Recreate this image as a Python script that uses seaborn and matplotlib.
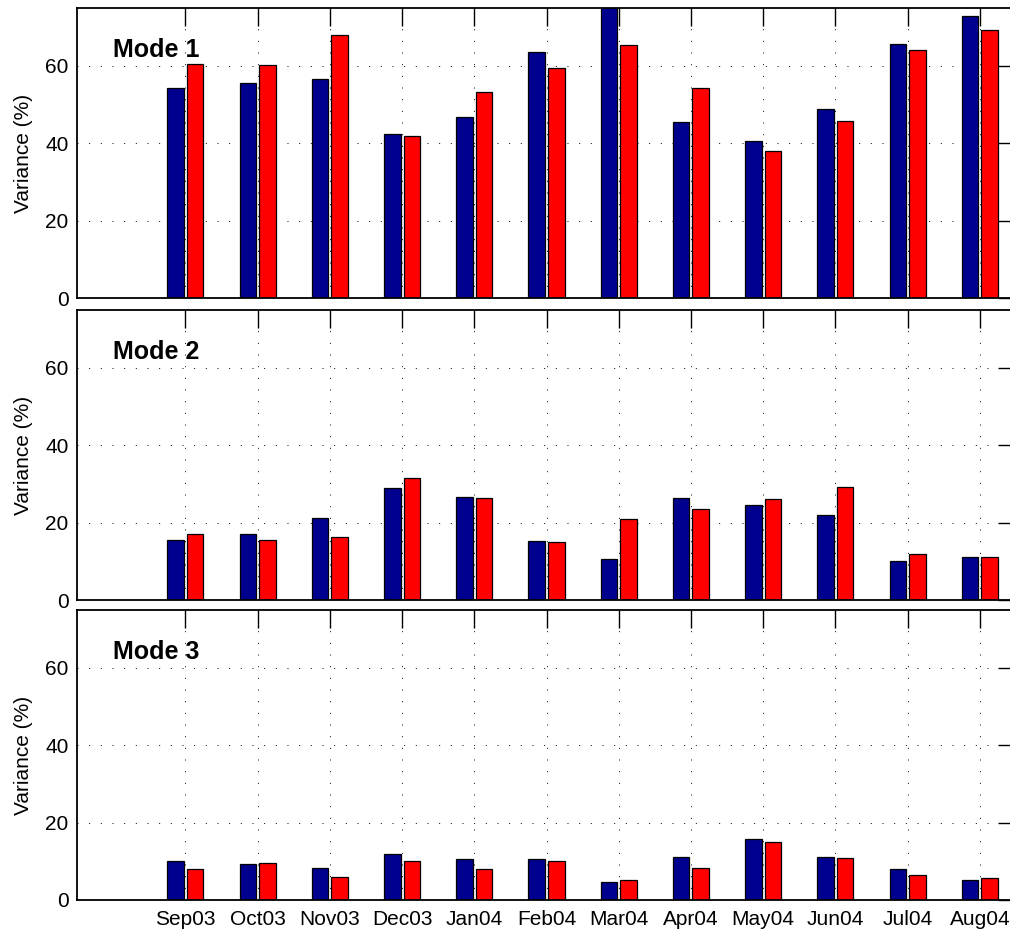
import matplotlib
matplotlib.use("Agg")
import matplotlib.pyplot as plt
import seaborn as sns
import pandas as pd

months = ["Sep03", "Oct03", "Nov03", "Dec03", "Jan04", "Feb04",
          "Mar04", "Apr04", "May04", "Jun04", "Jul04", "Aug04"]
series_names = ["Series A", "Series B"]
mode_titles = ["Mode 1", "Mode 2", "Mode 3"]

mode1_a = [54.4, 55.5, 56.7, 42.3, 46.8, 63.6, 77.0, 45.4, 40.5, 49.0, 65.8, 72.9]
mode1_b = [60.4, 60.3, 68.1, 42.0, 53.3, 59.6, 65.4, 54.2, 38.0, 45.7, 64.1, 69.4]
mode2_a = [15.4, 17.0, 21.2, 29.0, 26.6, 15.3, 10.5, 26.3, 24.5, 21.9, 10.0, 11.2]
mode2_b = [17.1, 15.6, 16.4, 31.6, 26.5, 15.1, 21.0, 23.5, 26.0, 29.1, 12.0, 11.1]
mode3_a = [10.2, 9.3, 8.2, 12.0, 10.7, 10.5, 4.7, 11.2, 15.7, 11.0, 7.9, 5.3]
mode3_b = [7.9, 9.5, 5.9, 10.2, 8.0, 10.2, 5.2, 8.2, 15.1, 10.8, 6.5, 5.7]

yticks = [0, 20, 40, 60]

modes = [(mode1_a, mode1_b), (mode2_a, mode2_b), (mode3_a, mode3_b)]

sns.set_style("white")
plt.rcParams["font.family"] = ["Liberation Sans", "DejaVu Sans"]
plt.rcParams["text.color"] = "black"
plt.rcParams["axes.labelcolor"] = "black"
plt.rcParams["xtick.color"] = "black"
plt.rcParams["ytick.color"] = "black"

palette = {"Series A": "#00008F", "Series B": "#FF0000"}

fig = plt.figure(figsize=(10.1, 9.33), dpi=100)
left, width, height = 0.07624, 0.9297, 0.31083
bottoms = [0.68060, 0.35691, 0.03537]

for i, ((va, vb), title) in enumerate(zip(modes, mode_titles)):
    ax = fig.add_axes([left, bottoms[i], width, height])
    df = pd.DataFrame({
        "month": months * 2,
        "series": [series_names[0]] * len(months) + [series_names[1]] * len(months),
        "value": list(va) + list(vb),
    })
    sns.barplot(data=df, x="month", y="value", hue="series", order=months,
                hue_order=series_names, palette=palette, width=0.54, gap=0.15,
                edgecolor="black", linewidth=0.9, saturation=1, legend=False,
                errorbar=None, ax=ax)
    ax.set_xlim(-1.5, 11.5)
    ax.set_ylim(0, 75)
    ax.set_yticks(yticks)
    ax.set_axisbelow(True)
    ax.grid(True, color="black", linestyle=(0, (1, 11)), linewidth=0.7)
    ax.tick_params(direction="in", length=13, width=1.0, top=True, right=True,
                   labelsize=15, colors="black", labelcolor="black", pad=6)
    ax.tick_params(axis="x", pad=7)
    for sp in ax.spines.values():
        sp.set_linewidth(1.3)
        sp.set_color("black")
    ax.set_xlabel("")
    ax.set_ylabel("Variance (%)", fontsize=15, color="black")
    ax.yaxis.set_label_coords(-0.047, 0.5)
    if i < 2:
        ax.set_xticklabels([])
    ax.text(0.0387, 0.832, title, transform=ax.transAxes, fontsize=18,
            fontweight="bold", ha="left", va="baseline", color="black")

fig.savefig("out.png", dpi=100)
